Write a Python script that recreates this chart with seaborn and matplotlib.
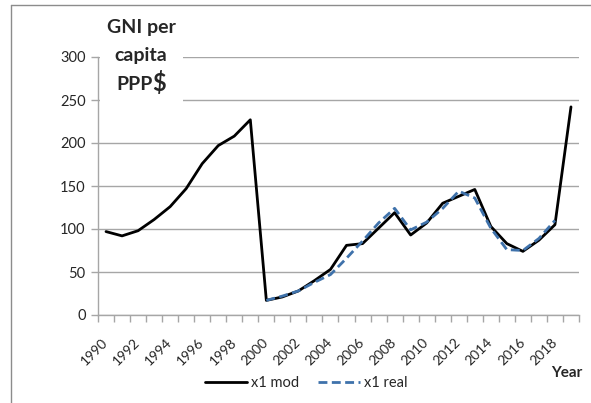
import matplotlib
matplotlib.use("Agg")
import matplotlib.pyplot as plt
import seaborn as sns
import numpy as np
import pandas as pd
from matplotlib.lines import Line2D
from matplotlib.patches import Rectangle

# data
years = list(range(1990, 2020))
x1_mod = [97, 92, 98, 111, 126, 147, 176, 197, 208, 227,
          17, 21, 28, 40, 53, 81, 83, 101, 119, 93,
          107, 130, 138, 146, 103, 83, 74, 87, 105, 242]
x1_real = [np.nan] * 10 + [17, 22, 28, 38, 47, 66, 86, 107, 124, 99,
                           108, 124, 144, 136, 101, 76, 75, 89, 110, np.nan]
tick_years = list(range(1990, 2019, 2))
y_ticks = [0, 50, 100, 150, 200, 250, 300]

df = pd.DataFrame({"Year": years, "x1 mod": x1_mod, "x1 real": x1_real})

sns.set_style("white")
plt.rcParams["font.family"] = ["Lato", "DejaVu Sans"]

W, H = 591, 403
fig = plt.figure(figsize=(W / 100, H / 100), dpi=100)
ax = fig.add_axes([98 / W, 1 - 315 / H, (579 - 98) / W, (315 - 57) / H])

grey = "#a6a6a6"
blue = "#3f72ab"
sns.lineplot(data=df, x="Year", y="x1 mod", ax=ax, color="black", lw=2.0,
             label="x1 mod", zorder=3)
sns.lineplot(data=df, x="Year", y="x1 real", ax=ax, color=blue, lw=2.0,
             label="x1 real", zorder=4)
ax.lines[1].set_dashes((3.2, 1.6))

ax.set_xlim(1989.5, 2019.5)
ax.set_ylim(0, 300)
ax.set_yticks(y_ticks)
ax.set_xticks(tick_years)
ax.set_xticklabels([str(y) for y in tick_years], rotation=45, ha="right",
                   va="center", rotation_mode="anchor")
ax.set_xticks(np.arange(1989.5, 2020, 1), minor=True)
ax.tick_params(axis="x", which="major", length=0, pad=18, labelsize=10)
ax.tick_params(axis="x", which="minor", length=5, color=grey, width=1,
               direction="out", bottom=True)
ax.tick_params(axis="y", length=5, color=grey, width=1, direction="out",
               left=True, labelsize=10.5, pad=4)
ax.yaxis.grid(True, color=grey, lw=1)
ax.xaxis.grid(False)
for s in ["top", "right"]:
    ax.spines[s].set_visible(False)
for s in ["left", "bottom"]:
    ax.spines[s].set_color(grey)
    ax.spines[s].set_linewidth(1)
ax.set_xlabel("")
ax.set_ylabel("")
ax.get_legend().remove()

# white box behind the axis title
fig.patches.append(Rectangle((100 / W, 1 - 106 / H), 83 / W, 96 / H,
                             transform=fig.transFigure, facecolor="white",
                             edgecolor="none", zorder=1))
fig.text(141 / W, 1 - 27 / H, "GNI per", ha="center", va="center",
         fontsize=14, fontweight="bold", zorder=2)
fig.text(141 / W, 1 - 55 / H, "capita", ha="center", va="center",
         fontsize=14, fontweight="bold", zorder=2)
fig.text(153 / W, 1 - 84 / H, "PPP", ha="right", va="center",
         fontsize=14, fontweight="bold", zorder=2)
fig.text(152 / W, 1 - 83 / H, "$", ha="left", va="center",
         fontsize=17, fontweight="bold", zorder=2)

fig.text(567 / W, 1 - 373 / H, "Year", ha="center", va="center",
         fontsize=11, fontweight="bold")

handles = [Line2D([], [], color="black", lw=2.0),
           Line2D([], [], color=blue, lw=2.0, dashes=(3.2, 1.6))]
fig.legend(handles, ["x1 mod", "x1 real"], loc="center", ncol=2,
           bbox_to_anchor=(306 / W, 1 - 383 / H), frameon=False,
           fontsize=10.5, handlelength=2.9, handletextpad=0.25,
           columnspacing=1.3)

# outer chart frame (left and top edges visible)
fig.lines.append(Line2D([11 / W, 11 / W], [0, 1 - 5 / H],
                        transform=fig.transFigure, color="#8c8c8c", lw=1))
fig.lines.append(Line2D([11 / W, 1], [1 - 5 / H, 1 - 5 / H],
                        transform=fig.transFigure, color="#8c8c8c", lw=1))

fig.savefig("out.png", dpi=100)
